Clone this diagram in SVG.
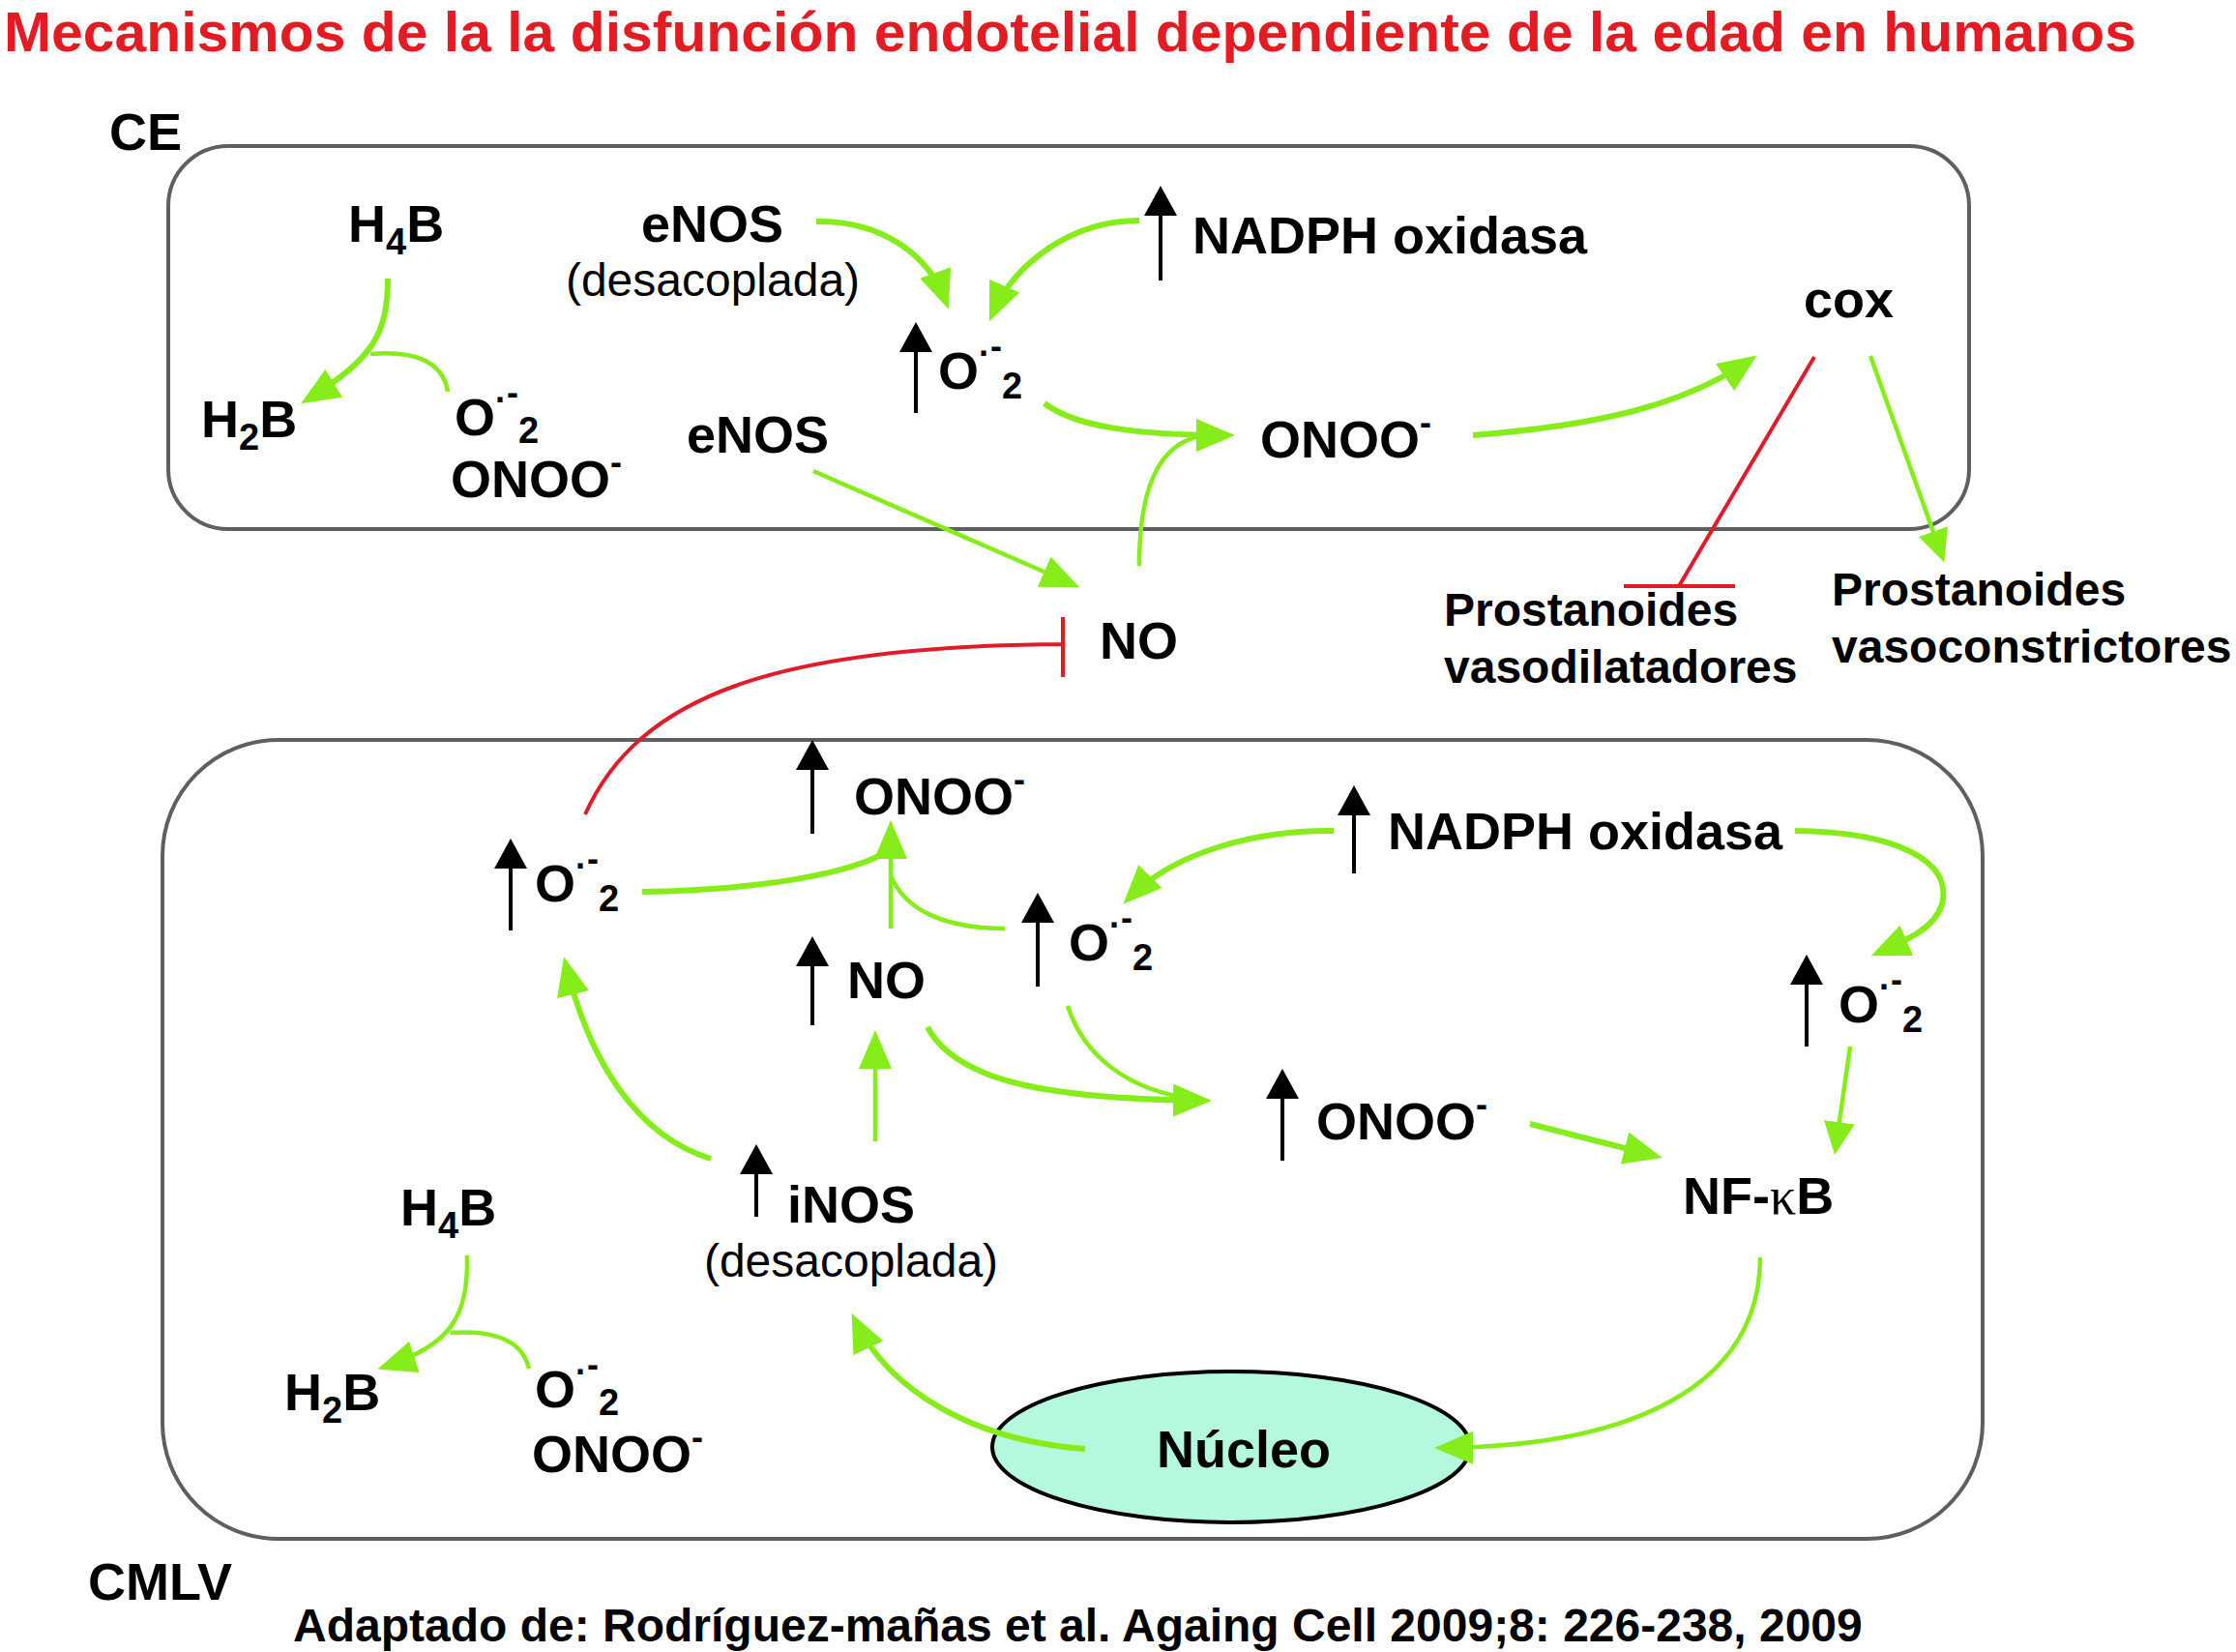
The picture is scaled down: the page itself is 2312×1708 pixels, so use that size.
<svg xmlns="http://www.w3.org/2000/svg" width="2312" height="1708" viewBox="0 0 2312 1708">
<style>
.lbl{font-family:"Liberation Sans",Arial,Helvetica,sans-serif;font-weight:bold;font-size:54px;fill:#000}
.reg{font-family:"Liberation Sans",Arial,Helvetica,sans-serif;font-weight:normal;font-size:48px;fill:#000}
.sm{font-size:48px}
.sup{font-size:36px}
.sub{font-size:38px}
.box{fill:none;stroke:#5f5f5f;stroke-width:4}
.g{fill:none;stroke:#86ec1a;stroke-width:6}
.gt{fill:none;stroke:#86ec1a;stroke-width:4.5}
.r{fill:none;stroke:#e01c2a;stroke-width:4}
.up{fill:none;stroke:#000;stroke-width:4}
</style>
<defs>
<marker id="ah" viewBox="0 0 40 34" markerWidth="40" markerHeight="34" refX="32" refY="17" markerUnits="userSpaceOnUse" orient="auto"><path d="M0,0 L40,17 L0,34 z" fill="#86ec1a"/></marker>
<marker id="ahs" viewBox="0 0 34 32" markerWidth="34" markerHeight="32" refX="27" refY="16" markerUnits="userSpaceOnUse" orient="auto"><path d="M0,0 L34,16 L0,32 z" fill="#86ec1a"/></marker>
<marker id="bh" viewBox="0 0 31 34" markerWidth="31" markerHeight="34" refX="21" refY="17" markerUnits="userSpaceOnUse" orient="auto"><path d="M0,0 L31,17 L0,34 z" fill="#000"/></marker>
</defs>
<rect width="2312" height="1708" fill="#fff"/>

<text id="title" x="4" y="53" font-family="Liberation Sans, Arial, sans-serif" font-weight="bold" font-size="58" fill="#e41b23" textLength="2205" lengthAdjust="spacingAndGlyphs">Mecanismos de la la disfunción endotelial dependiente de la edad en humanos</text>

<g id="ce-cell">
<rect class="box" x="174" y="151" width="1862" height="396" rx="62" ry="62"/>
<text class="lbl" x="113" y="155" font-size="52">CE</text>
</g>
<g id="cmlv-cell">
<rect class="box" x="168" y="765" width="1882" height="826" rx="120" ry="120"/>
<text class="lbl" x="91" y="1654" font-size="53">CMLV</text>
</g>

<g id="nucleo">
<ellipse cx="1273" cy="1496" rx="247" ry="78" fill="#b4f8de" stroke="#000" stroke-width="4"/>
<text class="lbl" x="1286" y="1517" text-anchor="middle">Núcleo</text>
</g>

<g id="connectors">
<!-- CE -->
<path class="g" d="M401,288 C401,345 385,372 318,413" marker-end="url(#ah)"/>
<path class="gt" d="M463,405 C458,372 425,362 383,366"/>
<path class="g" d="M844,229 C910,228 960,262 978,312" marker-end="url(#ah)"/>
<path class="g" d="M1178,228 C1110,228 1050,270 1026,325" marker-end="url(#ah)"/>
<path class="g" d="M1080,417 C1110,440 1170,450 1269,450" marker-end="url(#ah)"/>
<path class="gt" d="M1178,585 C1178,510 1195,458 1245,450"/>
<path class="gt" d="M841,487 L1109,604" marker-end="url(#ah)"/>
<path class="g" d="M1523,450 C1650,440 1740,420 1810,372" marker-end="url(#ah)"/>
<path class="gt" d="M1934,368 L2008,575" marker-end="url(#ahs)"/>
<path class="r" d="M1876,369 L1736,606 M1679,606 L1794,606"/>
<path class="r" d="M605,842 C660,720 800,668 1099,666 M1099,638 L1099,700"/>
<!-- CMLV -->
<path class="g" d="M664,922 C780,920 880,905 921,878"/>
<path class="gt" d="M921,960 L921,856" marker-end="url(#ah)"/>
<path class="gt" d="M1039,960 C975,960 935,940 921,905"/>
<path class="g" d="M1379,859 C1300,858 1215,880 1167,929" marker-end="url(#ah)"/>
<path class="g" d="M1856,859 C1960,860 2020,890 2008,935 C2000,960 1972,972 1942,985" marker-end="url(#ah)"/>
<path class="gt" d="M1913,1082 L1898,1187" marker-end="url(#ahs)"/>
<path class="g" d="M1582,1162 L1711,1195" marker-end="url(#ah)"/>
<path class="gt" d="M1820,1300 C1820,1420 1710,1495 1491,1497" marker-end="url(#ah)"/>
<path class="g" d="M1122,1498 C1010,1490 920,1440 884,1365" marker-end="url(#ah)"/>
<path class="g" d="M735,1198 C660,1175 610,1100 585,997" marker-end="url(#ah)"/>
<path class="gt" d="M905,1180 L905,1073" marker-end="url(#ah)"/>
<path class="g" d="M959,1062 C990,1120 1090,1136 1245,1138" marker-end="url(#ah)"/>
<path class="gt" d="M1104,1040 C1120,1090 1165,1128 1235,1136"/>
<path class="gt" d="M483,1298 C484,1360 468,1390 398,1413" marker-end="url(#ah)"/>
<path class="gt" d="M547,1415 C540,1385 510,1375 466,1378"/>
</g>

<!-- CE nodes -->
<g id="ce-h4b"><text class="lbl" x="360" y="250">H<tspan class="sub" dy="13">4</tspan><tspan dy="-13">B</tspan></text></g>
<g id="ce-h2b"><text class="lbl" x="208" y="452">H<tspan class="sub" dy="13">2</tspan><tspan dy="-13">B</tspan></text></g>
<g id="ce-o2-onoo">
<text class="lbl" x="470" y="450">O<tspan class="sup" dy="-24">·</tspan><tspan class="sup" dy="-8">-</tspan><tspan class="sub" dy="40">2</tspan></text>
<text class="lbl" x="466" y="514">ONOO<tspan class="sup" dy="-24">-</tspan></text>
</g>
<g id="ce-enos-desacoplada">
<text class="lbl" x="663" y="250">eNOS</text>
<text class="reg" x="737" y="306" text-anchor="middle">(desacoplada)</text>
</g>
<g id="ce-enos"><text class="lbl" x="710" y="468">eNOS</text></g>
<g id="ce-o2">
<path class="up" d="M947,427 L947,343" marker-end="url(#bh)"/>
<text class="lbl" x="970" y="402">O<tspan class="sup" dy="-24">·</tspan><tspan class="sup" dy="-8">-</tspan><tspan class="sub" dy="42">2</tspan></text>
</g>
<g id="ce-nadph">
<path class="up" d="M1200,290 L1200,202" marker-end="url(#bh)"/>
<text class="lbl" x="1233" y="262">NADPH oxidasa</text>
</g>
<g id="ce-onoo"><text class="lbl" x="1303" y="473">ONOO<tspan class="sup" dy="-24">-</tspan></text></g>
<g id="ce-cox"><text class="lbl" x="1865" y="328">cox</text></g>
<g id="no"><text class="lbl" x="1137" y="681">NO</text></g>
<g id="prostanoides-vasodilatadores">
<text class="lbl sm" x="1493" y="647">Prostanoides</text>
<text class="lbl sm" x="1493" y="706">vasodilatadores</text>
</g>
<g id="prostanoides-vasoconstrictores">
<text class="lbl sm" x="1894" y="626">Prostanoides</text>
<text class="lbl sm" x="1894" y="685">vasoconstrictores</text>
</g>

<!-- CMLV nodes -->
<g id="cmlv-onoo-top">
<path class="up" d="M840,862 L840,775" marker-end="url(#bh)"/>
<text class="lbl" x="883" y="842">ONOO<tspan class="sup" dy="-24">-</tspan></text>
</g>
<g id="cmlv-o2-left">
<path class="up" d="M528,962 L528,877" marker-end="url(#bh)"/>
<text class="lbl" x="553" y="932">O<tspan class="sup" dy="-24">·</tspan><tspan class="sup" dy="-8">-</tspan><tspan class="sub" dy="42">2</tspan></text>
</g>
<g id="cmlv-no">
<path class="up" d="M840,1060 L840,978" marker-end="url(#bh)"/>
<text class="lbl" x="876" y="1032">NO</text>
</g>
<g id="cmlv-o2-mid">
<path class="up" d="M1073,1020 L1073,933" marker-end="url(#bh)"/>
<text class="lbl" x="1105" y="993">O<tspan class="sup" dy="-24">·</tspan><tspan class="sup" dy="-8">-</tspan><tspan class="sub" dy="42">2</tspan></text>
</g>
<g id="cmlv-nadph">
<path class="up" d="M1400,903 L1400,822" marker-end="url(#bh)"/>
<text class="lbl" x="1435" y="878">NADPH oxidasa</text>
</g>
<g id="cmlv-o2-right">
<path class="up" d="M1868,1082 L1868,997" marker-end="url(#bh)"/>
<text class="lbl" x="1901" y="1057">O<tspan class="sup" dy="-24">·</tspan><tspan class="sup" dy="-8">-</tspan><tspan class="sub" dy="42">2</tspan></text>
</g>
<g id="cmlv-onoo-low">
<path class="up" d="M1326,1200 L1326,1115" marker-end="url(#bh)"/>
<text class="lbl" x="1361" y="1178">ONOO<tspan class="sup" dy="-24">-</tspan></text>
</g>
<g id="cmlv-nfkb"><text class="lbl" x="1740" y="1255">NF-<tspan font-family="Liberation Serif, serif" font-weight="normal">κ</tspan>B</text></g>
<g id="cmlv-inos">
<path class="up" d="M782,1258 L782,1193" marker-end="url(#bh)"/>
<text class="lbl" x="814" y="1264">iNOS</text>
<text class="reg" x="880" y="1320" text-anchor="middle">(desacoplada)</text>
</g>
<g id="cmlv-h4b"><text class="lbl" x="414" y="1267">H<tspan class="sub" dy="13">4</tspan><tspan dy="-13">B</tspan></text></g>
<g id="cmlv-h2b"><text class="lbl" x="294" y="1458">H<tspan class="sub" dy="13">2</tspan><tspan dy="-13">B</tspan></text></g>
<g id="cmlv-o2-onoo">
<text class="lbl" x="553" y="1455">O<tspan class="sup" dy="-24">·</tspan><tspan class="sup" dy="-8">-</tspan><tspan class="sub" dy="40">2</tspan></text>
<text class="lbl" x="550" y="1522">ONOO<tspan class="sup" dy="-24">-</tspan></text>
</g>

<text id="cita" x="303" y="1697" font-family="Liberation Sans, Arial, sans-serif" font-weight="bold" font-size="48" fill="#000">Adaptado de: Rodríguez-mañas et al. Againg Cell 2009;8: 226-238, 2009</text>
</svg>
